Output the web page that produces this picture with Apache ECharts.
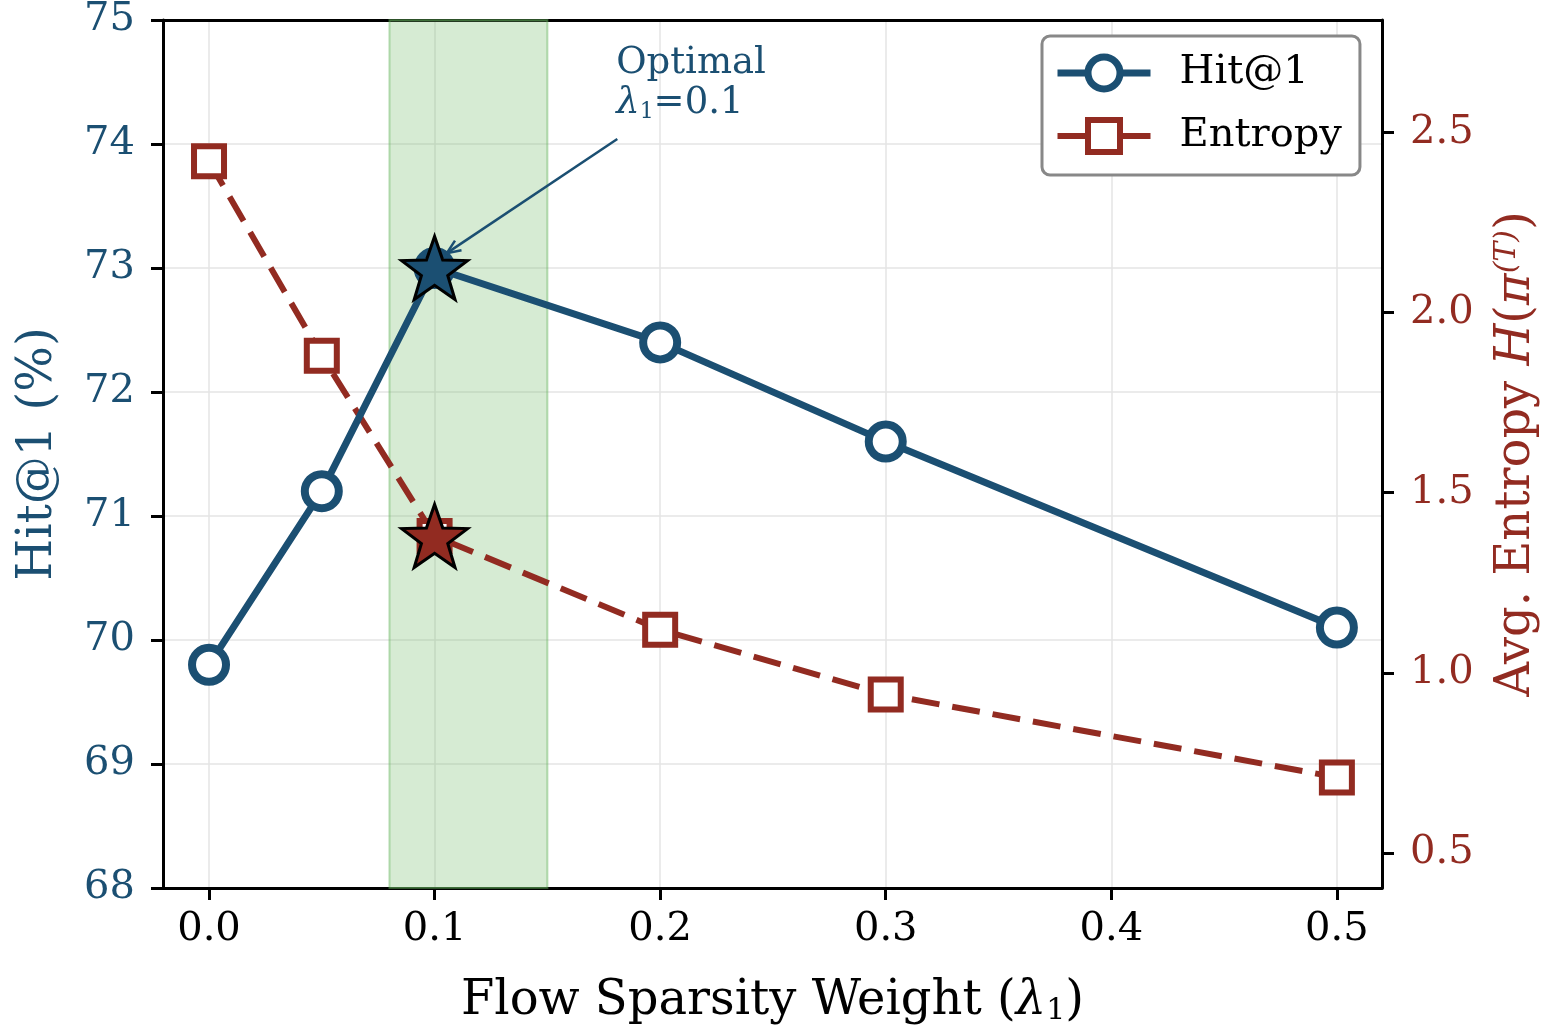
<!DOCTYPE html>
<html>
<head>
<meta charset="utf-8">
<script src="https://cdn.jsdelivr.net/npm/echarts@6/dist/echarts.min.js"></script>
<style>
  html, body { margin: 0; padding: 0; background: #fff; }
  #main { width: 1554px; height: 1033px; }
</style>
</head>
<body>
<div id="main"></div>
<script>
// data
var lambdas = [0.0, 0.05, 0.1, 0.2, 0.3, 0.5];
var hitAt1 = [69.8, 71.2, 73.0, 72.4, 71.6, 70.1];
var entropy = [2.42, 1.88, 1.38, 1.12, 0.94, 0.71];
var xTicks = [0.0, 0.1, 0.2, 0.3, 0.4, 0.5];
var entropyTicks = [0.5, 1.0, 1.5, 2.0, 2.5];
var bestLambda = 0.1;
var bandRange = [0.08, 0.15];
var arrowTail = [0.181, 74.04];
var arrowHead = [0.1054, 73.12];
var noteAnchor = [0.1805, 74.8];

var BLUE = '#1b4f72';
var RED = '#922b21';
var FONT = 'DejaVu Serif';

// 5-point star as a path symbol
function starPath() {
    var pts = [];
    for (var k = 0; k < 10; k++) {
        var a = (-90 + k * 36) * Math.PI / 180;
        var r = k % 2 === 0 ? 50 : 20;
        pts.push((50 + r * Math.cos(a)).toFixed(2) + ' ' + (50 + r * Math.sin(a)).toFixed(2));
    }
    return 'path://M' + pts.join(' L') + ' Z';
}
var STAR = starPath();

var hitData = lambdas.map(function (x, i) { return [x, hitAt1[i]]; });
var entData = lambdas.map(function (x, i) { return [x, entropy[i]]; });
var bestIdx = lambdas.indexOf(bestLambda);

var chart = echarts.init(document.getElementById('main'));

var option = {
    animation: false,
    backgroundColor: '#fff',
    textStyle: { fontFamily: FONT },
    grid: {
        left: 163, top: 15, width: 1219, height: 873,
        show: false
    },
    legend: {
        data: [{
            name: 'Hit@1',
            itemStyle: { color: '#fff', borderColor: BLUE, borderWidth: 7 },
            lineStyle: { color: BLUE, width: 7 }
        }, {
            name: 'Entropy',
            itemStyle: { color: '#fff', borderColor: RED, borderWidth: 6 },
            lineStyle: { color: RED, width: 6, type: 'solid' }
        }],
        orient: 'vertical',
        left: 1042, top: 36,
        padding: [17, 18, 19, 12],
        itemWidth: 93, itemHeight: 40, itemGap: 23,
        backgroundColor: '#fff',
        borderColor: '#888', borderWidth: 3, borderRadius: 8,
        textStyle: { fontFamily: FONT, fontSize: 40, color: '#000', padding: [0, 0, 0, 24] }
    },
    xAxis: [{
        type: 'value',
        min: -0.0204, max: 0.52,
        name: '{n|Flow Sparsity Weight (}{i|λ}{s|1}{n|)}',
        nameLocation: 'middle',
        nameGap: 90,
        nameTextStyle: {
            rich: {
                n: { fontFamily: FONT, fontSize: 48, color: '#000' },
                i: { fontFamily: FONT, fontSize: 48, color: '#000', fontStyle: 'italic' },
                s: { fontFamily: FONT, fontSize: 30, color: '#000', verticalAlign: 'bottom', padding: [16, 0, 0, 0] }
            }
        },
        axisLine: { onZero: false, lineStyle: { color: '#000', width: 3 } },
        axisTick: { customValues: xTicks, length: 12, lineStyle: { color: '#000', width: 3 } },
        axisLabel: {
            customValues: xTicks, margin: 22,
            fontFamily: FONT, fontSize: 40, color: '#000',
            formatter: function (v) { return v.toFixed(1); }
        },
        splitLine: { show: true, lineStyle: { color: '#e4e4e4', width: 1.5 } }
    }, {
        // top spine
        type: 'value',
        position: 'top',
        min: -0.0204, max: 0.52,
        axisLine: { show: true, onZero: false, lineStyle: { color: '#000', width: 3 } },
        axisTick: { show: false },
        axisLabel: { show: false },
        splitLine: { show: false }
    }],
    yAxis: [{
        type: 'value',
        min: 68, max: 75, interval: 1,
        name: 'Hit@1 (%)',
        nameLocation: 'middle',
        nameGap: 100,
        nameRotate: 90,
        nameTextStyle: { fontFamily: FONT, fontSize: 48, color: BLUE },
        axisLine: { show: true, onZero: false, lineStyle: { color: '#000', width: 3 } },
        axisTick: { show: true, length: 12, lineStyle: { color: '#000', width: 3 } },
        axisLabel: { margin: 28, fontFamily: FONT, fontSize: 40, color: BLUE },
        splitLine: { show: true, lineStyle: { color: '#e4e4e4', width: 1.5 } }
    }, {
        type: 'value',
        position: 'right',
        min: 0.403, max: 2.812,
        name: '{n|Avg. Entropy }{i|H}{n|(}{i|π}{s|(T)}{n|)}',
        nameLocation: 'middle',
        nameGap: 110,
        nameRotate: 90,
        nameTextStyle: {
            rich: {
                n: { fontFamily: FONT, fontSize: 48, color: RED },
                i: { fontFamily: FONT, fontSize: 48, color: RED, fontStyle: 'italic' },
                s: { fontFamily: FONT, fontSize: 30, color: RED, fontStyle: 'italic', verticalAlign: 'top', padding: [0, 0, 20, 0] }
            }
        },
        axisLine: { show: true, onZero: false, lineStyle: { color: '#000', width: 3 } },
        axisTick: { show: true, customValues: entropyTicks, length: 12, lineStyle: { color: '#000', width: 3 } },
        axisLabel: {
            customValues: entropyTicks, margin: 28,
            fontFamily: FONT, fontSize: 40, color: RED,
            formatter: function (v) { return v.toFixed(1); }
        },
        splitLine: { show: false }
    }],
    series: [{
        name: 'band',
        type: 'line',
        data: [],
        z: 1,
        markArea: {
            silent: true,
            itemStyle: { color: 'rgba(120,190,110,0.3)', borderColor: 'rgba(100,180,90,0.45)', borderWidth: 2 },
            data: [[{ xAxis: bandRange[0] }, { xAxis: bandRange[1] }]]
        }
    }, {
        name: 'Entropy',
        type: 'line',
        yAxisIndex: 1,
        data: entData,
        z: 3,
        symbol: 'rect',
        symbolSize: 30,
        itemStyle: { color: '#fff', borderColor: RED, borderWidth: 6 },
        lineStyle: { color: RED, width: 6, type: [28, 13] }
    }, {
        name: 'Hit@1',
        type: 'line',
        data: hitData,
        z: 4,
        symbol: 'circle',
        symbolSize: 34,
        itemStyle: { color: '#fff', borderColor: BLUE, borderWidth: 8 },
        lineStyle: { color: BLUE, width: 7 }
    }, {
        name: 'bestHit',
        type: 'scatter',
        data: [hitData[bestIdx]],
        z: 5,
        symbol: STAR,
        symbolSize: [66, 63],
        symbolKeepAspect: false,
        itemStyle: { color: BLUE, opacity: 1, borderColor: '#000', borderWidth: 3 }
    }, {
        name: 'bestEnt',
        type: 'scatter',
        yAxisIndex: 1,
        data: [entData[bestIdx]],
        z: 5,
        symbol: STAR,
        symbolSize: [66, 63],
        symbolKeepAspect: false,
        itemStyle: { color: RED, opacity: 1, borderColor: '#000', borderWidth: 3 }
    }]
};
chart.setOption(option);

// annotation: text and arrow, anchored in data space
var pa = chart.convertToPixel({ xAxisIndex: 0, yAxisIndex: 0 }, noteAnchor);
var p1 = chart.convertToPixel({ xAxisIndex: 0, yAxisIndex: 0 }, arrowTail);
var p2 = chart.convertToPixel({ xAxisIndex: 0, yAxisIndex: 0 }, arrowHead);
var ang = Math.atan2(p1[1] - p2[1], p1[0] - p2[0]);
var hl = 15, hw = 0.4;
var h1 = [p2[0] + hl * Math.cos(ang + hw), p2[1] + hl * Math.sin(ang + hw)];
var h2 = [p2[0] + hl * Math.cos(ang - hw), p2[1] + hl * Math.sin(ang - hw)];

chart.setOption({
    graphic: [{
        type: 'text',
        left: pa[0],
        top: pa[1],
        z: 10,
        style: {
            text: '{n|Optimal}\n{i|λ}{s|1}{n|=0.1}',
            rich: {
                n: { fontFamily: FONT, fontSize: 37, fill: BLUE, lineHeight: 40 },
                i: { fontFamily: FONT, fontSize: 37, fill: BLUE, fontStyle: 'italic', lineHeight: 40 },
                s: { fontFamily: FONT, fontSize: 22, fill: BLUE, verticalAlign: 'bottom', lineHeight: 34 }
            }
        }
    }, {
        type: 'line',
        z: 10,
        shape: { x1: p1[0], y1: p1[1], x2: p2[0], y2: p2[1] },
        style: { stroke: BLUE, lineWidth: 2.5 }
    }, {
        type: 'polyline',
        z: 10,
        shape: { points: [h1, p2, h2] },
        style: { stroke: BLUE, lineWidth: 2.5, fill: null }
    }]
});
</script>
</body>
</html>
